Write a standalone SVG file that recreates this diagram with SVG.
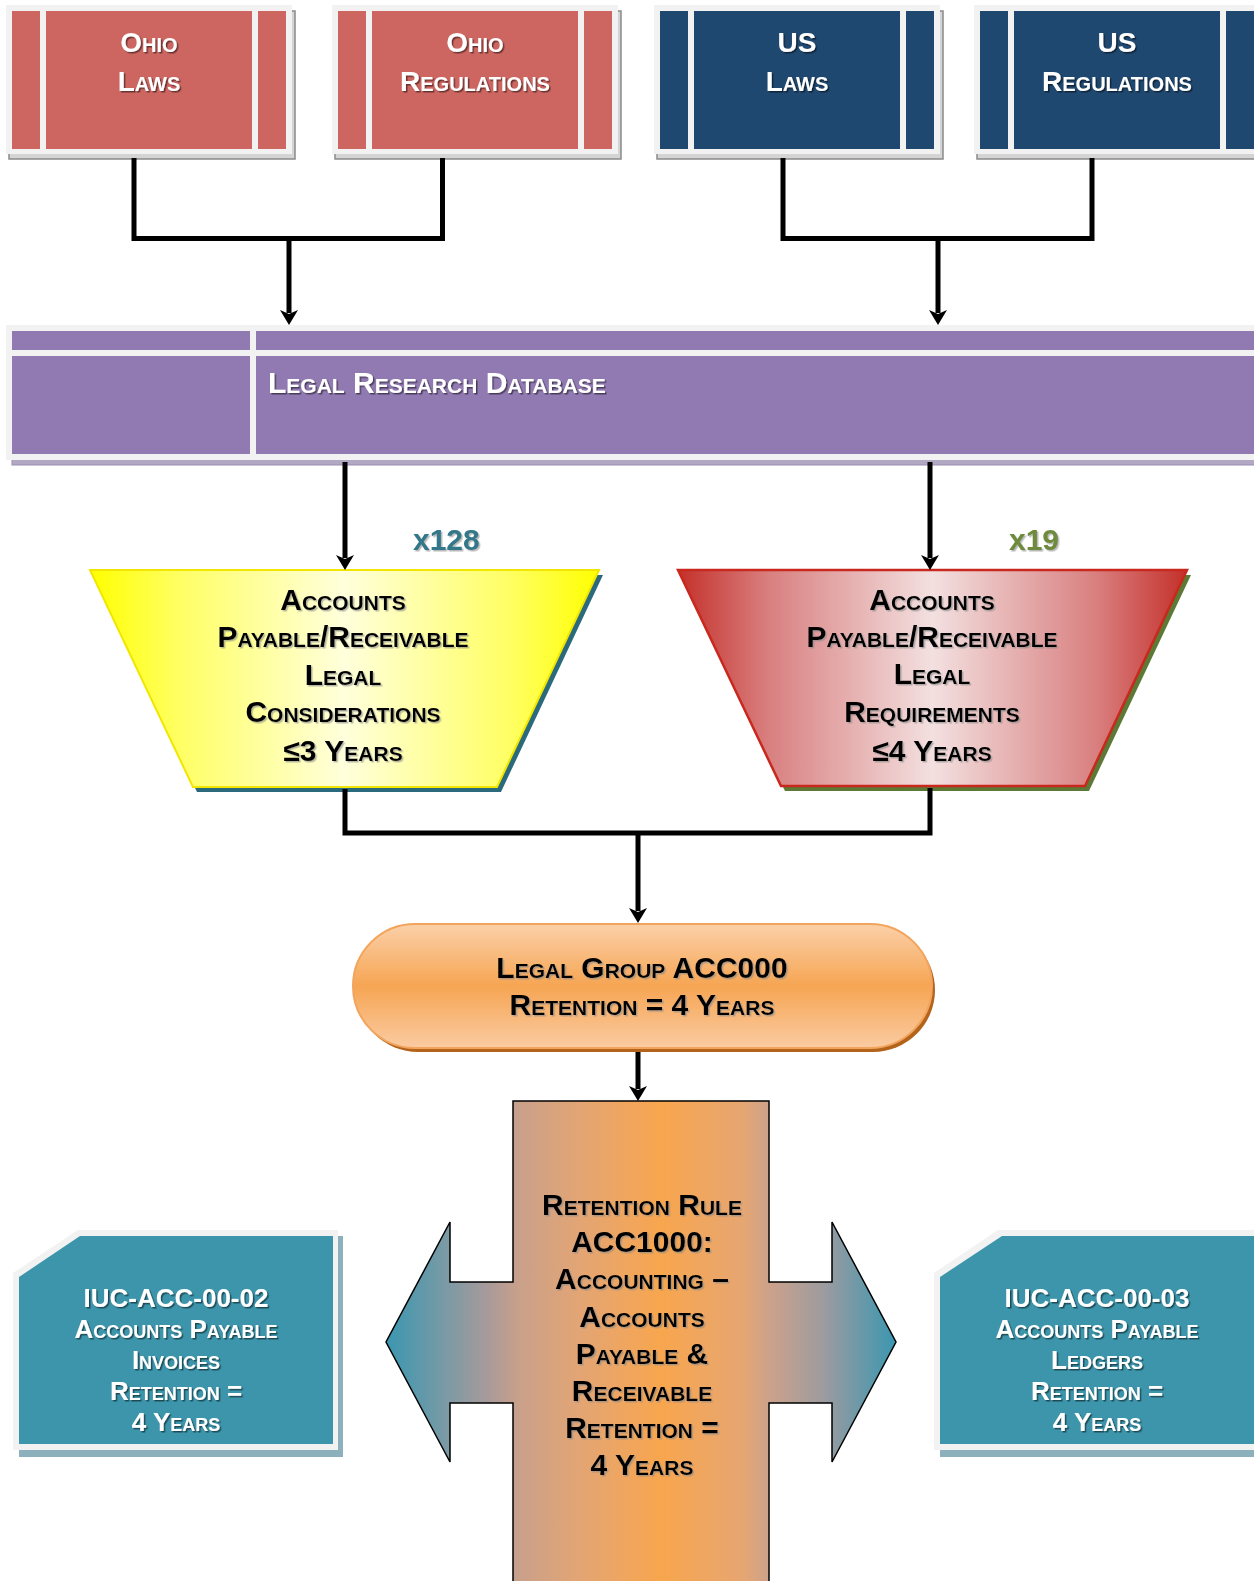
<svg xmlns="http://www.w3.org/2000/svg" width="1254" height="1581" viewBox="0 0 1254 1581">
<defs>
<style>
.t{font-family:"Liberation Sans",Arial,sans-serif;font-weight:bold;font-variant:small-caps;text-anchor:middle}
.w{fill:#fff;filter:url(#shw)}
.k{fill:#000;filter:url(#shk)}
.lt{fill:#F2F2F2}
.strip{fill:#F2F2F2}
.sh{fill:#D4D4D4;stroke:#8A8A8A;stroke-width:1.5}
.ohio{fill:#CD6661}
.us{fill:#1F4870}
.conn{fill:none;stroke:#000;stroke-width:5}
</style>
<filter id="shw" x="-10%" y="-30%" width="125%" height="170%"><feDropShadow dx="1.5" dy="1.5" stdDeviation="0.6" flood-color="#000" flood-opacity="0.5"/></filter>
<filter id="shk" x="-10%" y="-30%" width="125%" height="170%"><feDropShadow dx="1.5" dy="1.5" stdDeviation="0.6" flood-color="#888" flood-opacity="0.6"/></filter>
<marker id="arr" viewBox="0 0 15 18" refX="3" refY="9" markerWidth="15" markerHeight="18" markerUnits="userSpaceOnUse" orient="auto">
<path d="M0,0 L15,9 L0,18 L4,9 z" fill="#000"/>
</marker>
<linearGradient id="gy" x1="0" y1="0" x2="1" y2="0">
<stop offset="0" stop-color="#FFFF00"/><stop offset="0.18" stop-color="#FFFF66"/><stop offset="0.5" stop-color="#FFFFDC"/><stop offset="0.82" stop-color="#FFFF66"/><stop offset="1" stop-color="#FFFF00"/>
</linearGradient>
<linearGradient id="gr" x1="0" y1="0" x2="1" y2="0">
<stop offset="0" stop-color="#C4302A"/><stop offset="0.18" stop-color="#D98080"/><stop offset="0.5" stop-color="#F3E0E0"/><stop offset="0.82" stop-color="#D98080"/><stop offset="1" stop-color="#C4302A"/>
</linearGradient>
<linearGradient id="go" x1="0" y1="0" x2="0" y2="1">
<stop offset="0" stop-color="#FBD0A8"/><stop offset="0.5" stop-color="#F6A553"/><stop offset="1" stop-color="#FACBA2"/>
</linearGradient>
<linearGradient id="gc" gradientUnits="userSpaceOnUse" x1="386" y1="0" x2="896" y2="0">
<stop offset="0" stop-color="#3A97B0"/><stop offset="0.12" stop-color="#7C9AA5"/><stop offset="0.2" stop-color="#A89A9A"/><stop offset="0.26" stop-color="#C9A08A"/><stop offset="0.38" stop-color="#E3A574"/><stop offset="0.54" stop-color="#F8A64E"/><stop offset="0.7" stop-color="#E6A672"/><stop offset="0.75" stop-color="#CDA28A"/><stop offset="0.86" stop-color="#9C9BA0"/><stop offset="1" stop-color="#3A97B0"/>
</linearGradient>
</defs>
<rect width="1254" height="1581" fill="#fff"/>

<g id="ohio-laws" transform="translate(6,0)">
<rect class="sh" x="3" y="11" width="286" height="148"/>
<rect class="lt" x="0" y="5" width="286" height="149"/>
<rect class="ohio" x="6" y="11" width="274" height="138"/>
<rect class="strip" x="34" y="11" width="6" height="138"/>
<rect class="strip" x="246" y="11" width="6" height="138"/>
<text class="t w" font-size="28"><tspan x="143" y="52">Ohio</tspan><tspan x="143" y="91">Laws</tspan></text>
</g>

<g id="ohio-regulations" transform="translate(332,0)">
<rect class="sh" x="3" y="11" width="286" height="148"/>
<rect class="lt" x="0" y="5" width="286" height="149"/>
<rect class="ohio" x="6" y="11" width="274" height="138"/>
<rect class="strip" x="34" y="11" width="6" height="138"/>
<rect class="strip" x="246" y="11" width="6" height="138"/>
<text class="t w" font-size="28"><tspan x="143" y="52">Ohio</tspan><tspan x="143" y="91">Regulations</tspan></text>
</g>

<g id="us-laws" transform="translate(654,0)">
<rect class="sh" x="3" y="11" width="286" height="148"/>
<rect class="lt" x="0" y="5" width="286" height="149"/>
<rect class="us" x="6" y="11" width="274" height="138"/>
<rect class="strip" x="34" y="11" width="6" height="138"/>
<rect class="strip" x="246" y="11" width="6" height="138"/>
<text class="t w" font-size="28"><tspan x="143" y="52">US</tspan><tspan x="143" y="91">Laws</tspan></text>
</g>

<g id="us-regulations" transform="translate(974,0)">
<rect class="sh" x="3" y="11" width="286" height="148"/>
<rect class="lt" x="0" y="5" width="286" height="149"/>
<rect class="us" x="6" y="11" width="274" height="138"/>
<rect class="strip" x="34" y="11" width="6" height="138"/>
<rect class="strip" x="246" y="11" width="6" height="138"/>
<text class="t w" font-size="28"><tspan x="143" y="52">US</tspan><tspan x="143" y="91">Regulations</tspan></text>
</g>

<g id="legal-research-database">
<rect x="12" y="330" width="1250" height="135" fill="#B3A8C4" stroke="#9C8DB3" stroke-width="1"/>
<rect class="lt" x="6" y="325" width="1260" height="135"/>
<rect x="12" y="331" width="1250" height="123" fill="#917AB1"/>
<rect class="strip" x="12" y="350" width="1250" height="6"/>
<rect class="strip" x="250" y="331" width="6" height="123"/>
<text class="t w" font-size="30" x="268" y="393" style="text-anchor:start">Legal Research Database</text>
</g>

<g id="considerations">
<polygon points="94,575 603,575 501,792 197,792" fill="#2B6A7C"/>
<polygon points="90,570 599,570 497,787 193,787" fill="url(#gy)" stroke="#F2E600" stroke-width="2"/>
<text class="t k" font-size="30"><tspan x="343" y="610">Accounts</tspan><tspan x="343" y="647">Payable/Receivable</tspan><tspan x="343" y="685">Legal</tspan><tspan x="343" y="722">Considerations</tspan><tspan x="343" y="761">≤3 Years</tspan></text>
<text x="413" y="550" font-family="'Liberation Sans',Arial,sans-serif" font-weight="bold" font-size="30" fill="#31788A" filter="url(#shk)">x128</text>
</g>

<g id="requirements">
<polygon points="682,575 1191,575 1089,791 785,791" fill="#5C7A36"/>
<polygon points="678,570 1187,570 1085,786 781,786" fill="url(#gr)" stroke="#C8281E" stroke-width="2.5"/>
<text class="t k" font-size="30"><tspan x="932" y="610">Accounts</tspan><tspan x="932" y="647">Payable/Receivable</tspan><tspan x="932" y="684">Legal</tspan><tspan x="932" y="722">Requirements</tspan><tspan x="932" y="761">≤4 Years</tspan></text>
<text x="1009" y="550" font-family="'Liberation Sans',Arial,sans-serif" font-weight="bold" font-size="30" fill="#6E8B3D" filter="url(#shk)">x19</text>
</g>

<g id="legal-group">
<rect x="356" y="928" width="579" height="124" rx="62" fill="#B4631B"/>
<rect x="353" y="924" width="579" height="124" rx="62" fill="url(#go)" stroke="#F2A45C" stroke-width="2"/>
<text class="t k" font-size="30"><tspan x="642" y="978">Legal Group ACC000</tspan><tspan x="642" y="1015">Retention = 4 Years</tspan></text>
</g>

<g id="retention-rule">
<polygon points="513,1101 769,1101 769,1282 832,1282 832,1222 896,1342 832,1462 832,1403 769,1403 769,1595 513,1595 513,1403 450,1403 450,1462 386,1342 450,1222 450,1282 513,1282" fill="url(#gc)" stroke="#000" stroke-width="1.5"/>
<text class="t k" font-size="30"><tspan x="642" y="1215">Retention Rule</tspan><tspan x="642" y="1252">ACC1000:</tspan><tspan x="642" y="1289">Accounting –</tspan><tspan x="642" y="1327">Accounts</tspan><tspan x="642" y="1364">Payable &amp;</tspan><tspan x="642" y="1401">Receivable</tspan><tspan x="642" y="1438">Retention =</tspan><tspan x="642" y="1475">4 Years</tspan></text>
</g>

<g id="invoices">
<polygon points="19,1279 84,1236 343,1236 343,1457 19,1457" fill="#8DB1BC"/>
<polygon points="13,1273 78,1230 338,1230 338,1450 13,1450" fill="#F2F2F2"/>
<polygon points="19,1277 80,1236 333,1236 333,1444 19,1444" fill="#3C95AB"/>
<text class="t w" font-size="26"><tspan x="176" y="1307">IUC-ACC-00-02</tspan><tspan x="176" y="1338">Accounts Payable</tspan><tspan x="176" y="1369">Invoices</tspan><tspan x="176" y="1400">Retention =</tspan><tspan x="176" y="1431">4 Years</tspan></text>
</g>

<g id="ledgers">
<polygon points="940,1279 1004,1236 1264,1236 1264,1457 940,1457" fill="#8DB1BC"/>
<polygon points="934,1273 998,1230 1264,1230 1264,1450 934,1450" fill="#F2F2F2"/>
<polygon points="940,1277 1002,1236 1264,1236 1264,1444 940,1444" fill="#3C95AB"/>
<text class="t w" font-size="26"><tspan x="1097" y="1307">IUC-ACC-00-03</tspan><tspan x="1097" y="1338">Accounts Payable</tspan><tspan x="1097" y="1369">Ledgers</tspan><tspan x="1097" y="1400">Retention =</tspan><tspan x="1097" y="1431">4 Years</tspan></text>
</g>

<g id="connectors">
<path class="conn" d="M134,158 V238.5 H442.5 V158"/>
<path class="conn" d="M289,238.5 V313" marker-end="url(#arr)"/>
<path class="conn" d="M783,158 V238.5 H1092 V158"/>
<path class="conn" d="M938,238.5 V313" marker-end="url(#arr)"/>
<path class="conn" d="M345,462 V558" marker-end="url(#arr)"/>
<path class="conn" d="M930,462 V558" marker-end="url(#arr)"/>
<path class="conn" d="M345,789 V833 H930 V788"/>
<path class="conn" d="M638,833 V911" marker-end="url(#arr)"/>
<path class="conn" d="M638,1052 V1089" marker-end="url(#arr)"/>
</g>
</svg>
